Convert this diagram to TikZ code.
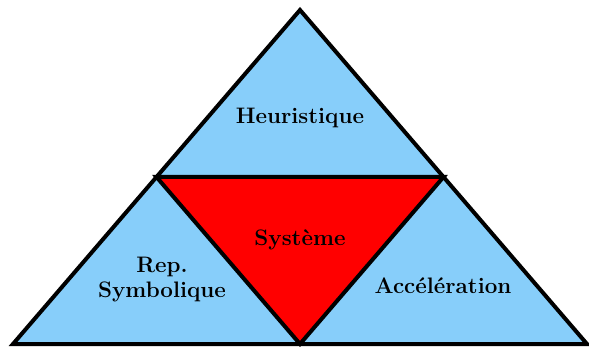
\documentclass[tikz,border=0pt]{standalone}
\usepackage{xcolor}
\definecolor{skyb}{HTML}{87CEFA}
\begin{document}
\begin{tikzpicture}[x=0.5pt,y=-0.5pt,
  edge/.style={line width=2pt},
  lab/.style={font=\fontsize{11.2}{12.5}\selectfont\bfseries, align=center, inner sep=0pt}]
\useasboundingbox (0,0) rectangle (589,347);
\coordinate (A) at (13,344);
\coordinate (B) at (587,344);
\coordinate (C) at (300,10);
\path (A) -- (B) coordinate[pos=0.5] (mAB);
\path (B) -- (C) coordinate[pos=0.5] (mBC);
\path (A) -- (C) coordinate[pos=0.5] (mAC);
\fill[skyb] (A) -- (B) -- (C) -- cycle;
\fill[red] (mAC) -- (mBC) -- (mAB) -- cycle;
\draw[edge] (A) -- (B) -- (C) -- cycle;
\draw[edge] (mAC) -- (mBC) -- (mAB) -- cycle;
\node[lab] (heu) at (300,118) {Heuristique};
\node[lab] (sys) at (300,240) {Système};
\node[lab] (rep) at (162,280) {Rep.\\Symbolique};
\node[lab] (acc) at (443,286) {Accélération};
\end{tikzpicture}
\end{document}
